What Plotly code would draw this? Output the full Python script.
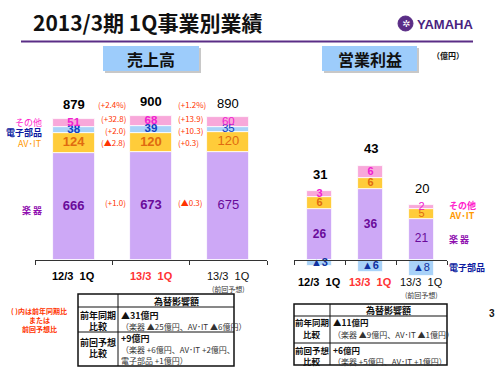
import plotly.graph_objects as go
import numpy as np

# ---------------- data ----------------
categories = ["12/3  1Q", "13/3  1Q", "13/3  1Q"]
cat_notes = ["", "", "(前回予想)"]
cat_colors = ["#000000", "#FF3333", "#111111"]
cat_bold = [True, True, False]

sales_instruments = [666, 673, 675]
sales_avit = [124, 120, 120]
sales_parts = [38, 39, 35]
sales_other = [51, 68, 60]
sales_total = [879, 900, 890]

# change labels: [total %, other, parts, av-it, instruments]
chg_prev_year = ["(+2.4%)", "(+32.8)", "(+2.0)", "(▲2.8)", "(+1.0)"]
chg_forecast = ["(+1.2%)", "(+13.9)", "(+10.3)", "(+0.3)", "(▲0.3)"]

op_instruments = [26, 36, 21]
op_avit = [6, 6, 5]
op_other = [3, 6, 2]
op_parts = [-3, -6, -8]
op_total = [31, 43, 20]

seg_names = ["楽 器", "AV･IT", "電子部品", "その他"]

# ---------------- styles ----------------
W, H = 500, 375
JP = "Noto Sans CJK JP"
NUM = "Liberation Sans, Noto Sans CJK JP"
C_INST, C_AV, C_PARTS, C_OTHER = "#CDA8F6", "#FFCC3A", "#A9D2F8", "#F8A8DA"
T_INST, T_AV, T_PARTS, T_OTHER = "#6A0A9A", "#E06A10", "#1040C0", "#F020D0"
L_INST, L_AV, L_PARTS, L_OTHER = "#9010B0", "#FF9900", "#0A1AA0", "#FF22CC"
RED = "#FF3300"


def px(x):
    return x / W


def py(y):
    return 1 - y / H


def b(s, on=True):
    return f"<b>{s}</b>" if on else s


x_idx = np.arange(3)
fig = go.Figure()

# ---------------- left chart: sales ----------------
left_stack = [(sales_instruments, C_INST), (sales_avit, C_AV),
              (sales_parts, C_PARTS), (sales_other, C_OTHER)]
for vals, col in left_stack:
    fig.add_trace(go.Bar(x=x_idx, y=vals, width=0.54, marker=dict(color=col, line=dict(color="white", width=0.8)),
                         xaxis="x", yaxis="y", showlegend=False, hoverinfo="skip"))

s_arr = np.array([sales_instruments, sales_avit, sales_parts, sales_other], dtype=float)
s_cum = np.cumsum(s_arr, axis=0)
s_mid = s_cum - s_arr / 2
for k, (tc, fs) in enumerate([(T_INST, 13), (T_AV, 13), (T_PARTS, 11.5), (T_OTHER, 11.5)]):
    fig.add_trace(go.Scatter(x=x_idx, y=s_mid[k], mode="text",
                             text=[b(int(v), i < 2) for i, v in enumerate(s_arr[k])],
                             textfont=dict(family=NUM, size=fs, color=tc),
                             xaxis="x", yaxis="y", showlegend=False, hoverinfo="skip"))

# ---------------- right chart: operating income ----------------
right_stack = [(op_instruments, C_INST), (op_avit, C_AV), (op_other, C_OTHER), (op_parts, C_PARTS)]
for vals, col in right_stack:
    fig.add_trace(go.Bar(x=x_idx, y=vals, width=0.49, marker=dict(color=col, line=dict(color="white", width=0.8)),
                         xaxis="x2", yaxis="y2", showlegend=False, hoverinfo="skip"))

o_arr = np.array([op_instruments, op_avit, op_other], dtype=float)
o_cum = np.cumsum(o_arr, axis=0)
o_mid = o_cum - o_arr / 2
for k, (tc, fs) in enumerate([(T_INST, 12), (T_AV, 11), (T_OTHER, 11)]):
    fig.add_trace(go.Scatter(x=x_idx, y=o_mid[k], mode="text",
                             text=[b(int(v), i < 2) for i, v in enumerate(o_arr[k])],
                             textfont=dict(family=NUM, size=fs, color=tc),
                             xaxis="x2", yaxis="y2", showlegend=False, hoverinfo="skip"))
parts_mid = np.array(op_parts, dtype=float) / 2
fig.add_trace(go.Scatter(x=x_idx, y=parts_mid, mode="text",
                         text=[b(f"▲{abs(v)}", i < 2) for i, v in enumerate(op_parts)],
                         textfont=dict(family=NUM, size=11, color="#1030A0"),
                         xaxis="x2", yaxis="y2", showlegend=False, hoverinfo="skip"))

ann = []

# totals
for i, t in enumerate(sales_total):
    ann.append(dict(x=i, y=t, xref="x", yref="y", yshift=14, text=b(t, i < 2), showarrow=False,
                    font=dict(family=NUM, size=13, color="#000")))
o_pos_top = o_cum[-1]
for i, t in enumerate(op_total):
    ann.append(dict(x=i, y=o_pos_top[i], xref="x2", yref="y2", yshift=17, text=b(t, i < 2), showarrow=False,
                    font=dict(family=NUM, size=13, color="#000")))

# change labels around middle bar
chg_y = [sales_total[1], s_mid[3][1], s_mid[2][1], s_mid[1][1], s_mid[0][1]]
chg_shift = [11, 3, -1, 0, 3]
for lbl, yv, ys in zip(chg_prev_year, chg_y, chg_shift):
    ann.append(dict(x=1, y=yv, xref="x", yref="y", xanchor="right", xshift=-23, yshift=ys, text=lbl,
                    showarrow=False, font=dict(family=JP, size=8, color=RED)))
for lbl, yv, ys in zip(chg_forecast, chg_y, chg_shift):
    ann.append(dict(x=1, y=yv, xref="x", yref="y", xanchor="left", xshift=25, yshift=ys, text=lbl,
                    showarrow=False, font=dict(family=JP, size=8, color=RED)))

# segment names left (aligned with first bar)
left_lbl = [(seg_names[3], s_mid[3][0], L_OTHER, False, -1), (seg_names[2], s_mid[2][0], L_PARTS, True, 2),
            (seg_names[1], s_mid[1][0], L_AV, False, 0), (seg_names[0], s_mid[0][0], L_INST, True, 4)]
for name, yv, col, bo, ys in left_lbl:
    ann.append(dict(x=px(44), y=yv, xref="paper", yref="y", xanchor="right", yshift=-ys, text=b(name, bo),
                    showarrow=False, font=dict(family=JP, size=9, color=col)))

# segment names right (aligned with third bar)
right_lbl = [(seg_names[3], o_mid[2][2], L_OTHER, 2), (seg_names[1], o_mid[1][2], L_AV, -2),
             (seg_names[0], o_mid[0][2], L_INST, 0), (seg_names[2], parts_mid[2], L_PARTS, 0)]
for name, yv, col, ys in right_lbl:
    ann.append(dict(x=px(447), y=yv, xref="paper", yref="y2", xanchor="left", yshift=ys, text=b(name),
                    showarrow=False, font=dict(family=JP, size=9, color=col)))

# category labels
for i, c in enumerate(categories):
    ann.append(dict(x=i, y=py(276), xref="x", yref="paper", text=b(c, cat_bold[i]), showarrow=False,
                    font=dict(family=NUM, size=11, color=cat_colors[i])))
    ann.append(dict(x=i, y=py(282), xref="x2", yref="paper", text=b(c, cat_bold[i]), showarrow=False,
                    font=dict(family=NUM, size=11, color=cat_colors[i])))
    if cat_notes[i]:
        ann.append(dict(x=i, y=py(288.5), xref="x", yref="paper", text=cat_notes[i], showarrow=False,
                        font=dict(family=JP, size=7, color="#333")))
        ann.append(dict(x=i, y=py(295), xref="x2", yref="paper", text=cat_notes[i], showarrow=False,
                        font=dict(family=JP, size=7, color="#333")))

# title, boxes, logo
ann.append(dict(x=px(31), y=py(22), xref="paper", yref="paper", xanchor="left", text="<b>2013/3期 1Q事業別業績</b>",
                showarrow=False, font=dict(family=JP, size=21, color="#111")))
ann.append(dict(x=px(151), y=py(58.5), xref="paper", yref="paper", text="<b>売上高</b>", showarrow=False,
                font=dict(family=JP, size=16, color="#111")))
ann.append(dict(x=px(369.5), y=py(58.5), xref="paper", yref="paper", text="<b>営業利益</b>", showarrow=False,
                font=dict(family=JP, size=16, color="#111")))
ann.append(dict(x=px(448), y=py(55), xref="paper", yref="paper", text="<b>（億円）</b>", showarrow=False,
                font=dict(family=JP, size=8, color="#111")))
ann.append(dict(x=px(415), y=py(24), xref="paper", yref="paper", xanchor="left", text="<b>YAMAHA</b>",
                showarrow=False, font=dict(family="Liberation Sans", size=13, color="#4A1F80")))
ann.append(dict(x=px(405.5), y=py(23.5), xref="paper", yref="paper", text="✲",
                showarrow=False, font=dict(family="DejaVu Sans", size=10, color="white")))
ann.append(dict(x=px(492), y=py(313), xref="paper", yref="paper", text="<b>3</b>", showarrow=False,
                font=dict(family=NUM, size=10, color="#111")))

# note
for txt, yy in [("( )内は前年同期比", 311), ("または", 320), ("前回予想比", 329)]:
    ann.append(dict(x=px(39), y=py(yy), xref="paper", yref="paper", text=b(txt), showarrow=False,
                    font=dict(family=JP, size=7, color=RED)))


# tables
def table_text(x, y, t, size=9, bold=True, anchor="left", color="#111"):
    ann.append(dict(x=px(x), y=py(y), xref="paper", yref="paper", xanchor=anchor, text=b(t, bold),
                    showarrow=False, font=dict(family=JP, size=size, color=color)))


table_text(176, 301, "為替影響額", anchor="center")
table_text(98, 315, "前年同期", anchor="center")
table_text(98, 326, "比較", anchor="center")
table_text(119, 315, "▲31億円")
table_text(119, 326, "（楽器 ▲25億円、AV･IT ▲6億円）", size=8, bold=False, color="#333")
table_text(98, 342, "前回予想", anchor="center")
table_text(98, 353, "比較", anchor="center")
table_text(119, 338, "+9億円")
table_text(119, 349, "（楽器 +6億円、AV･IT +2億円、", size=8, bold=False, color="#333")
table_text(119, 360, "電子部品 +1億円）", size=8, bold=False, color="#333")

table_text(388.5, 310, "為替影響額", anchor="center")
table_text(312, 322, "前年同期", size=8.5, anchor="center")
table_text(312, 334, "比較", size=8.5, anchor="center")
table_text(331, 322, "▲11億円", size=8.5)
table_text(331, 334, "（楽器 ▲9億円、AV･IT ▲1億円）", size=8, bold=False, color="#333")
table_text(312, 350, "前回予想", size=8.5, anchor="center")
table_text(312, 361, "比較", size=8.5, anchor="center")
table_text(331, 350, "+6億円", size=8.5)
table_text(331, 361, "（楽器 +5億円、AV･IT +1億円）", size=8, bold=False, color="#333")

for a in ann:
    a.setdefault("xanchor", "center")
    a.setdefault("yanchor", "middle")

shapes = []


def rect(x0, y0, x1, y1, fill=None, line=None, lw=1):
    shapes.append(dict(type="rect", xref="paper", yref="paper", x0=px(x0), x1=px(x1), y0=py(y1), y1=py(y0),
                       fillcolor=fill or "rgba(0,0,0,0)", line=dict(color=line or "rgba(0,0,0,0)", width=lw),
                       layer="below"))


def hline(x0, x1, y, col="#111", lw=1):
    shapes.append(dict(type="line", xref="paper", yref="paper", x0=px(x0), x1=px(x1), y0=py(y), y1=py(y),
                       line=dict(color=col, width=lw)))


def vline(x, y0, y1, col="#111", lw=1):
    shapes.append(dict(type="line", xref="paper", yref="paper", x0=px(x), x1=px(x), y0=py(y0), y1=py(y1),
                       line=dict(color=col, width=lw)))


# title rule
hline(21, 473, 41.5, col="#5A2D86", lw=2)
# header boxes with shadow
rect(105, 48, 201, 73, fill="#C8C8C8")
rect(103, 46, 199, 71, fill="#9DCCFB")
rect(324, 48, 419, 73, fill="#C8C8C8")
rect(322, 46, 417, 71, fill="#9DCCFB")
# logo emblem
shapes.append(dict(type="circle", xref="paper", yref="paper", x0=px(398), x1=px(413), y0=py(31), y1=py(16),
                   fillcolor="#5A2D86", line=dict(color="#5A2D86", width=1)))
# tables
for x0, y0, x1, y1, dv, hl in [(78, 294, 234, 366, 118, [307, 332]), (294, 304, 447, 365, 330, [316, 343])]:
    shapes.append(dict(type="rect", xref="paper", yref="paper", x0=px(x0), x1=px(x1), y0=py(y1), y1=py(y0),
                       line=dict(color="#111", width=1.5)))
    vline(dv, y0, y1)
    for yy in hl:
        hline(x0, x1, yy)

# ---------------- layout ----------------
base_axis = dict(tickvals=[-0.5, 0.5, 1.5, 2.5], ticktext=["", "", "", ""], ticks="outside", ticklen=4,
                 tickcolor="#333", showline=True, linecolor="#333", linewidth=1, showgrid=False,
                 zeroline=False, range=[-0.5, 2.5], anchor="free", position=py(260), fixedrange=True)
scale_l = 0.1605
scale_r = 1.96
fig.update_layout(
    width=W, height=H, autosize=False,
    margin=dict(l=0, r=0, t=0, b=0),
    paper_bgcolor="white", plot_bgcolor="rgba(0,0,0,0)",
    barmode="relative", bargap=0,
    xaxis=dict(domain=[px(35), px(267)], **base_axis),
    xaxis2=dict(domain=[px(294), px(447)], **base_axis),
    yaxis=dict(domain=[0, 1], range=[-(H - 260) / scale_l, 260 / scale_l], visible=False, fixedrange=True),
    yaxis2=dict(domain=[0, 1], range=[-(H - 260) / scale_r, 260 / scale_r], visible=False, fixedrange=True,
                anchor="x2"),
    annotations=ann, shapes=shapes,
    font=dict(family=JP),
)
fig.write_html("out.html", config={"displayModeBar": False},
               post_script="document.body.style.margin='0';document.body.style.overflow='hidden';")
